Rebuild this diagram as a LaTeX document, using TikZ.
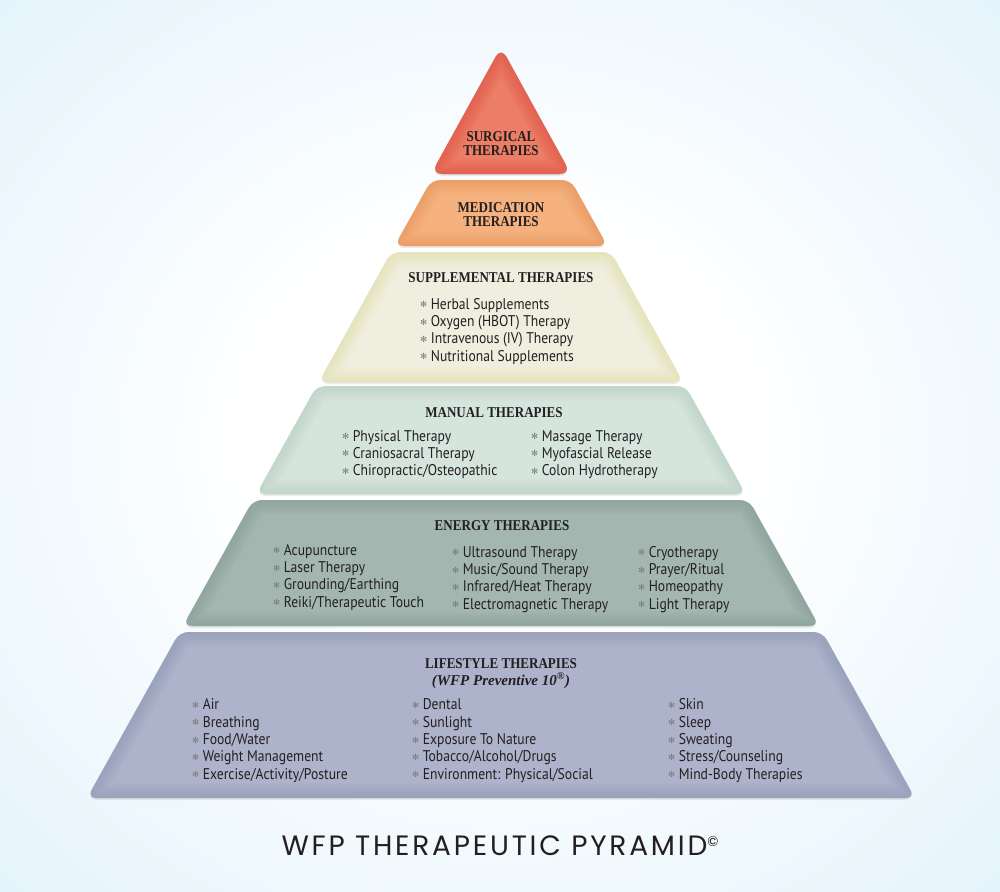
\documentclass[tikz,border=0pt]{standalone}
\usepackage{fontspec}
\setmainfont{Liberation Serif}
\newfontfamily\headfont[FakeStretch=0.87]{Liberation Serif}
\newfontfamily\listfont[FakeStretch=0.88]{PT Sans}
\newfontfamily\titlefont[LetterSpace=10]{Poppins}
\newfontfamily\symfont{DejaVu Sans}
\usetikzlibrary{shadows}

\definecolor{ink}{HTML}{231F20}
\definecolor{bulgray}{HTML}{7A7A7A}
\definecolor{bgblue}{HTML}{DAEFFA}
\definecolor{surgfill}{HTML}{EC7D66}
\definecolor{surgrim}{HTML}{D9443A}
\definecolor{medfill}{HTML}{F5B27F}
\definecolor{medrim}{HTML}{E98C50}
\definecolor{suppfill}{HTML}{EFEEDF}
\definecolor{supprim}{HTML}{E6DB92}
\definecolor{manfill}{HTML}{D5E5DD}
\definecolor{manrim}{HTML}{AFC9BC}
\definecolor{enefill}{HTML}{A3B7B0}
\definecolor{enerim}{HTML}{7F978F}
\definecolor{lifefill}{HTML}{ACB3CA}
\definecolor{liferim}{HTML}{8A93B0}

\pgfdeclareradialshading{paper}{\pgfpoint{0bp}{0bp}}{color(0bp)=(white); color(12bp)=(white); color(45bp)=(bgblue); color(75bp)=(bgblue)}

\newcommand\bul{{\symfont\fontsize{8.5}{8.5}\selectfont\color{bulgray}\raisebox{1.4pt}{✻}}\hspace{3.5pt}}

\tikzset{
  tier/.style 2 args={rounded corners=9pt,
    insert path={({501-0.557*(#1-55)},#1) -- ({501+0.557*(#1-55)},#1) -- ({501+0.557*(#2-55)},#2) -- ({501-0.557*(#2-55)},#2) -- cycle}},
  apex/.style={rounded corners=11pt,
    insert path={(501,47) -- (571,174) -- (431,174) -- cycle}},
  soft/.style={drop shadow={opacity=.15, shadow xshift=0pt, shadow yshift=-2pt}},
  head/.style={font=\headfont\bfseries\fontsize{15}{13.8}\selectfont, text=ink, inner sep=0pt, align=center, anchor=base},
  sub/.style={font=\bfseries\itshape\fontsize{15}{15}\selectfont, text=ink, inner sep=0pt, anchor=base},
  list/.style={font=\listfont\fontsize{15.5}{17.3}\selectfont, text=ink, inner sep=0pt, align=left, anchor=base west},
}

\newcommand\tierblock[3]{%
  \path[#1, soft, fill=#2];
  \begin{scope}
    \clip[#1];
    \foreach \w in {3,6,...,30} {\draw[#1, draw=#3, line width=\w pt, opacity=.05];}
  \end{scope}}

\begin{document}
\begin{tikzpicture}[x=1pt, y=-1pt]
  \useasboundingbox (0,0) rectangle (1000,891);
  \shade[shading=paper] (0,0) rectangle (1000,891);

  \tierblock{apex}{surgfill}{surgrim}
  \tierblock{tier={180}{246}}{medfill}{medrim}
  \tierblock{tier={252}{382}}{suppfill}{supprim}
  \tierblock{tier={386}{494}}{manfill}{manrim}
  \tierblock{tier={500}{626}}{enefill}{enerim}
  \tierblock{tier={632}{798}}{lifefill}{liferim}

  \node[head](surg) at (501, 155.5) {SURGICAL\\THERAPIES};
  \node[head](med) at (501, 226) {MEDICATION\\THERAPIES};

  \node[head](supp) at (501, 282) {SUPPLEMENTAL THERAPIES};
  \node[list](supp1) at (420, 361) {\bul Herbal Supplements\\\bul Oxygen (HBOT) Therapy\\\bul Intravenous (IV) Therapy\\\bul Nutritional Supplements};

  \node[head](man) at (494, 417) {MANUAL THERAPIES};
  \node[list](man1) at (342, 475.6) {\bul Physical Therapy\\\bul Craniosacral Therapy\\\bul Chiropractic/Osteopathic};
  \node[list](man2) at (531, 475.6) {\bul Massage Therapy\\\bul Myofascial Release\\\bul Colon Hydrotherapy};

  \node[head](ene) at (502, 530) {ENERGY THERAPIES};
  \node[list](ene1) at (273, 607) {\bul Acupuncture\\\bul Laser Therapy\\\bul Grounding/Earthing\\\bul Reiki/Therapeutic Touch};
  \node[list](ene2) at (452, 609) {\bul Ultrasound Therapy\\\bul Music/Sound Therapy\\\bul Infrared/Heat Therapy\\\bul Electromagnetic Therapy};
  \node[list](ene3) at (638, 609) {\bul Cryotherapy\\\bul Prayer/Ritual\\\bul Homeopathy\\\bul Light Therapy};

  \node[head](life) at (501, 668) {LIFESTYLE THERAPIES};
  \node[sub](lifesub) at (501, 685) {(WFP Preventive 10\textsuperscript{®})};
  \node[list](life1) at (192, 779) {\bul Air\\\bul Breathing\\\bul Food/Water\\\bul Weight Management\\\bul Exercise/Activity/Posture};
  \node[list](life2) at (412, 779) {\bul Dental\\\bul Sunlight\\\bul Exposure To Nature\\\bul Tobacco/Alcohol/Drugs\\\bul Environment: Physical/Social};
  \node[list](life3) at (668, 779) {\bul Skin\\\bul Sleep\\\bul Sweating\\\bul Stress/Counseling\\\bul Mind-Body Therapies};

  \node[anchor=base, inner sep=0pt, text=ink, font=\titlefont\fontsize{28}{28}\selectfont](title) at (500, 855) {WFP THERAPEUTIC PYRAMID\raisebox{9pt}{\fontsize{14}{14}\selectfont ©}};
\end{tikzpicture}
\end{document}
